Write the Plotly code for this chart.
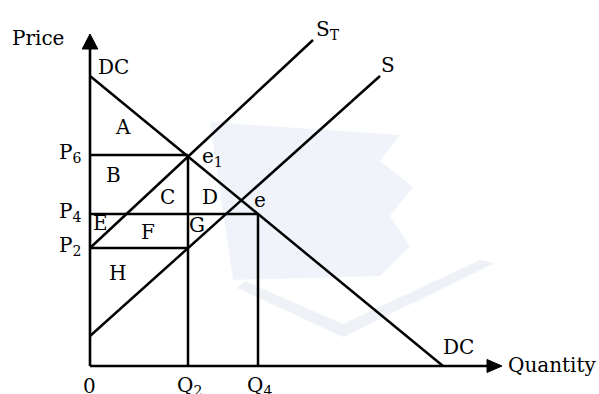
import plotly.graph_objects as go

# ---- schematic values (diagram units) ----
dc_price_intercept = 29.0     # DC meets price axis
dc_qty_intercept = 35.3       # DC meets quantity axis
s_start = [0.0, 3.0]          # supply S (q, p)
s_end = [29.0, 29.0]
st_start = [0.0, 11.8]        # supply incl. tax S_T (q, p)
st_end = [22.3, 32.6]
price_names = ["P6", "P4", "P2"]
price_values = [21.1, 15.2, 11.8]
qty_names = ["Q2", "Q4"]
qty_values = [9.8, 16.8]
area_names = ["A", "B", "C", "D", "E", "F", "G", "H"]

P6, P4, P2 = price_values
Q2, Q4 = qty_values

FONT = "DejaVu Serif"
FS = 20
LW = 2.5
fig = go.Figure()

def seg(xs, ys, w=LW):
    fig.add_trace(go.Scatter(x=xs, y=ys, mode="lines",
                             line=dict(color="black", width=w),
                             hoverinfo="skip", showlegend=False))

# faint watermark (decorative)
fig.add_shape(type="path",
              path="M 12,24.4 L 31,23.1 L 29,20.5 L 32.3,17.9 L 30,15 L 32,12 L 29,9 L 14.3,8.6 Z",
              fillcolor="#f0f4fa", line=dict(width=0), layer="below")
fig.add_shape(type="path",
              path="M 14.7,7.8 L 25.3,2.9 L 40.5,10.3 L 39,10.6 L 25.3,4.2 L 15.5,8.5 Z",
              fillcolor="#eef1f5", line=dict(width=0), layer="below")

# axes
seg([0, 0], [0, 31.8], w=2.6)
seg([0, 39.8], [0, 0], w=2.6)
fig.add_trace(go.Scatter(x=[-0.78, 0.78, 0, -0.78], y=[31.7, 31.7, 33.2, 31.7],
                         mode="lines", fill="toself", fillcolor="black",
                         line=dict(color="black", width=1), hoverinfo="skip", showlegend=False))
fig.add_trace(go.Scatter(x=[39.7, 39.7, 41.2, 39.7], y=[0.65, -0.65, 0, 0.65],
                         mode="lines", fill="toself", fillcolor="black",
                         line=dict(color="black", width=1), hoverinfo="skip", showlegend=False))

# curves
seg([0, dc_qty_intercept], [dc_price_intercept, 0])
seg([s_start[0], s_end[0]], [s_start[1], s_end[1]])
seg([st_start[0], st_end[0]], [st_start[1], st_end[1]])

# guide lines
seg([0, Q2], [P6, P6])
seg([0, Q4], [P4, P4])
seg([0, Q2], [P2, P2])
seg([Q2, Q2], [0, P6])
seg([Q4, Q4], [0, P4])

def txt(x, y, t, xa="center"):
    fig.add_annotation(x=x, y=y, text=t, showarrow=False, xanchor=xa, yanchor="middle",
                       font=dict(family=FONT, size=FS, color="black"))

txt(-5.2, 32.8, "Price")
txt(41.6, 0.1, "Quantity", "left")
txt(0.6, 29.9, "DC", "left")
txt(36.8, 1.9, "DC")
txt(22.4, 33.6, "S<sub>T</sub>", "left")
txt(29.8, 30.1, "S")
txt(11.0, 20.9, "e<sub>1</sub>", "left")
txt(16.2, 16.6, "e", "left")

# price / quantity labels
for name, v in zip(price_names, price_values):
    txt(-0.7, v + 0.2, name[0] + "<sub>" + name[1:] + "</sub>", "right")
txt(-0.1, -2.0, "0")
for name, v in zip(qty_names, qty_values):
    txt(v + 0.1, -2.0, name[0] + "<sub>" + name[1:] + "</sub>")

# area labels
area_pos = [(3.3, 23.9), (2.3, 19.1), (7.7, 16.9), (12.0, 16.9),
            (1.0, 14.3), (5.8, 13.4), (10.7, 14.1), (2.7, 9.3)]
for name, (x, y) in zip(area_names, area_pos):
    txt(x, y, name)

fig.update_layout(width=599, height=394, margin=dict(l=0, r=0, t=0, b=0),
                  plot_bgcolor="white", paper_bgcolor="white", showlegend=False,
                  xaxis=dict(range=[-9.0, 50.9], visible=False, fixedrange=True),
                  yaxis=dict(range=[-2.8, 36.6], visible=False, fixedrange=True))
fig.write_html("out.html", config={"displayModeBar": False},
               post_script="document.body.style.margin='0';document.body.style.overflow='hidden';")
